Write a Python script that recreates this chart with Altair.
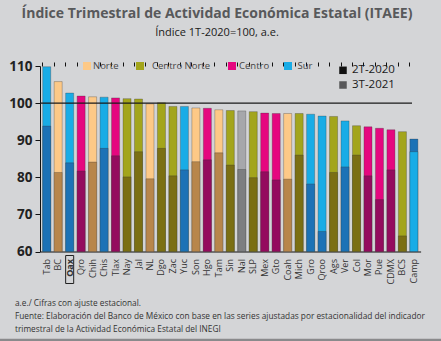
import altair as alt
import pandas as pd

# ---------------- data ----------------
states = ["Tab", "BC", "Oax", "Qro", "Chih", "Chis", "Tlax", "Nay", "Jal", "NL", "Dgo", "Zac",
          "Yuc", "Son", "Hgo", "Tam", "Sin", "Nal", "SLP", "Mex", "Gto", "Coah", "Mich", "Gro",
          "Qroo", "Ags", "Ver", "Col", "Mor", "Pue", "CDMX", "BCS", "Camp"]
regions = ["Sur", "Norte", "Sur", "Centro", "Norte", "Sur", "Centro", "Centro Norte", "Centro Norte",
           "Norte", "Centro Norte", "Centro Norte", "Sur", "Norte", "Centro", "Norte", "Centro Norte",
           "Nacional", "Centro Norte", "Centro", "Centro", "Norte", "Centro Norte", "Sur", "Sur",
           "Centro Norte", "Sur", "Centro Norte", "Centro", "Centro", "Centro", "Centro Norte", "Sur"]
v_2T2020 = [93.8, 81.3, 83.9, 81.7, 84.1, 87.8, 85.8, 80.1, 86.9, 79.6, 87.8, 80.4,
            82.0, 84.2, 84.7, 86.6, 83.3, 82.1, 79.9, 81.5, 79.3, 79.5, 86.0, 78.2,
            65.4, 81.3, 82.8, 86.0, 80.4, 74.0, 82.0, 64.2, 90.3]
v_3T2021 = [109.8, 105.8, 102.7, 101.9, 101.7, 101.6, 101.4, 101.2, 101.1, 99.8, 100.1, 99.1,
            99.1, 98.7, 98.6, 98.2, 98.0, 97.9, 97.7, 97.3, 97.2, 97.2, 97.2, 97.0,
            96.5, 96.4, 95.2, 93.9, 93.6, 93.2, 92.8, 92.3, 86.9]

region_legend = ["Norte", "Centro Norte", "Centro", "Sur"]
period_legend = ["2T-2020", "3T-2021"]

light = {"Norte": "#FDC987", "Centro Norte": "#A3A51C", "Centro": "#E5077F",
         "Sur": "#19ACE6", "Nacional": "#A6A7AB"}
dark = {"Norte": "#B8864B", "Centro Norte": "#7B6F13", "Centro": "#940B5E",
        "Sur": "#1C72B6", "Nacional": "#7D7E81"}
period_colors = ["#111111", "#58585A"]

title = "Índice Trimestral de Actividad Económica Estatal (ITAEE)"
subtitle = "Índice 1T-2020=100, a.e."
notes = ["a.e./ Cifras con ajuste estacional.",
         "Fuente: Elaboración del Banco de México con base en las series ajustadas por estacionalidad del indicador",
         "trimestral de la Actividad Económica Estatal del INEGI"]

# ---------------- build tables ----------------
rows_back, rows_front = [], []
for s, r, a, b in zip(states, regions, v_2T2020, v_3T2021):
    if b >= a:
        rows_back.append({"state": s, "v": b, "c": light[r]})
        rows_front.append({"state": s, "v": a, "c": dark[r]})
    else:
        rows_back.append({"state": s, "v": a, "c": dark[r]})
        rows_front.append({"state": s, "v": b, "c": light[r]})
back = pd.DataFrame(rows_back)
front = pd.DataFrame(rows_front)

W, H = 380.6, 185.5
FONT = "Open Sans"

xscale = alt.Scale(domain=states, paddingInner=0.3, paddingOuter=0.235)
yscale = alt.Scale(domain=[60, 110], zero=False, nice=False)

x_labels_axis = alt.Axis(title=None, labelAngle=-90, labelFontSize=9, labelColor="#333333",
                         labelFont=FONT, ticks=False, domainColor="#111111", labelPadding=7,
                         labelFontWeight=alt.expr("datum.value == 'Oax' ? 'bold' : 'normal'"))
x_ticks_axis = alt.Axis(title=None, labels=False, ticks=True, tickSize=4, tickColor="#111111",
                        domain=False, bandPosition=0)
y_axis = alt.Axis(title=None, values=[60, 70, 80, 90, 100, 110], labelFontSize=13.5,
                  labelFontWeight="bold", labelColor="#222222", labelFont=FONT, tickSize=5,
                  tickColor="#111111", domainColor="#111111", grid=False, labelPadding=3)

bar_style = dict(stroke="#333333", strokeWidth=0.5, strokeOpacity=0.6)

back_bars = alt.Chart(back).mark_bar(**bar_style).encode(
    x=alt.X("state:N", scale=xscale, sort=states, axis=x_labels_axis),
    y=alt.Y("v:Q", scale=yscale, axis=y_axis),
    y2=alt.datum(60),
    color=alt.Color("c:N", scale=None),
)
front_bars = alt.Chart(front).mark_bar(**bar_style).encode(
    x=alt.X("state:N", scale=xscale, sort=states, axis=x_ticks_axis),
    y=alt.Y("v:Q", scale=yscale, axis=y_axis),
    y2=alt.datum(60),
    color=alt.Color("c:N", scale=None),
)

ref_line = alt.Chart(pd.DataFrame({"v": [100]})).mark_rule(color="#1a1a1a", strokeWidth=1.3).encode(
    y=alt.Y("v:Q", scale=yscale, axis=y_axis), x=alt.value(0), x2=alt.value(372))

oax_box = alt.Chart(pd.DataFrame({"state": ["Oax"]})).mark_rect(
    fill=None, stroke="#222222", strokeWidth=1).encode(
    x=alt.X("state:N", scale=xscale, sort=states, axis=None),
    y=alt.value(H + 4), y2=alt.value(H + 32))


def txt(t, x, y, size, weight="normal", color="#333333", align="left"):
    return alt.Chart(pd.DataFrame({"t": [t]})).mark_text(
        align=align, baseline="middle", fontSize=size, fontWeight=weight, color=color, font=FONT
    ).encode(text="t:N", x=alt.value(x), y=alt.value(y))


def sq(color, cx, cy, side):
    return alt.Chart(pd.DataFrame({"k": [0]})).mark_rect(color=color, opacity=1).encode(
        x=alt.value(cx - side / 2), x2=alt.value(cx + side / 2),
        y=alt.value(cy - side / 2), y2=alt.value(cy + side / 2))


layers = [back_bars, front_bars, ref_line, oax_box]

# title / subtitle
layers.append(txt(title, 177, -52, 14, "bold", "#58595B", "center"))
layers.append(txt(subtitle, 177, -33.5, 11, "normal", "#1a1a1a", "center"))

# region legend
sq_x = [47, 100, 192, 248]
tx_x = [53, 112, 199, 257.5]
for name, sx, tx in zip(region_legend, sq_x, tx_x):
    layers.append(sq(light[name], sx, 0, 8))
    layers.append(txt(name, tx, 0, 9.5, "normal", "#444444"))

# period legend
for i, (name, col) in enumerate(zip(period_legend, period_colors)):
    yy = 4.3 + i * 14.7
    layers.append(sq(col, 303, yy, 7.5))
    layers.append(txt(name, 312, yy, 11.5, "normal", "#1a1a1a"))

# notes
for i, n in enumerate(notes):
    layers.append(txt(n, -25, 238.3 + i * 12.7, 8.3, "normal", "#333333"))

# bottom strip
layers.append(alt.Chart(pd.DataFrame({"k": [0]})).mark_rule(color="#8a8a8c", strokeWidth=2.5).encode(
    x=alt.value(-40), x2=alt.value(401), y=alt.value(274)))

chart = alt.layer(*layers).resolve_axis(x="independent").properties(
    width=W, height=H,
    autosize=alt.AutoSizeParams(type="none"),
    padding={"left": 40, "top": 66, "right": 441 - 40 - W, "bottom": 341 - 66 - H},
    background="#D4D5D7",
).configure_view(stroke=None)

chart.save("out.html", embed_options={"renderer": "svg", "actions": False})
